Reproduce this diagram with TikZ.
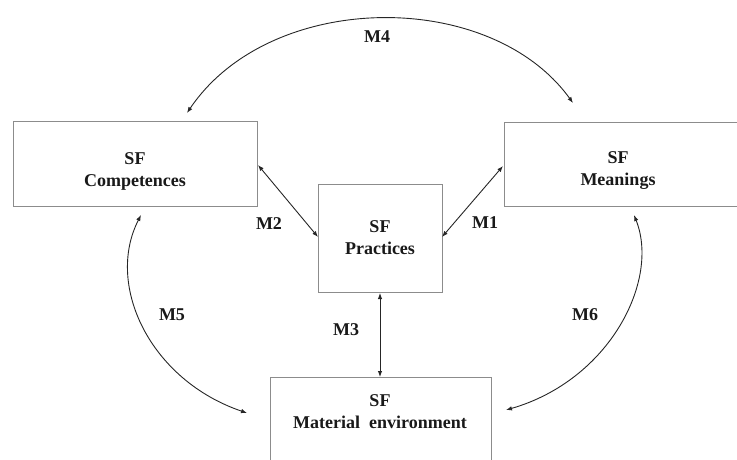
\documentclass[tikz,border=0pt]{standalone}
\usepackage{fontspec}
\setmainfont{Liberation Serif}
\usetikzlibrary{arrows.meta}
\begin{document}
\begin{tikzpicture}[x=1pt,y=-1pt,
  box/.style={draw=black!45,line width=0.9pt,fill=white},
  lbl/.style={font=\fontsize{18}{22}\selectfont\bfseries,align=center,text=black!90},
  link/.style={draw=black!85,line width=0.9pt,{Latex[length=6pt,width=4.5pt]}-{Latex[length=6pt,width=4.5pt]}}]
\useasboundingbox (0,0) rectangle (737,459);
\begin{scope}
\clip (0,0) rectangle (737,459);
\draw[box] (13,121) rectangle (257,206);
\draw[box] (504,122) rectangle (745,206);
\draw[box] (318,184) rectangle (442,292);
\draw[box] (270,377) rectangle (491,470);
\end{scope}
\node[lbl] (comp) at (135,171) {SF\\Competences};
\node[lbl] (mean) at (618,171) {SF\\Meanings};
\node[lbl] (prac) at (380,238) {SF\\Practices};
\node[lbl] (mat) at (380,412) {SF\\Material\ \ environment};
\coordinate (compR) at (258,165);
\coordinate (compT) at (187,113);
\coordinate (compB) at (141,215);
\coordinate (meanL) at (503,166);
\coordinate (meanT) at (573,103);
\coordinate (meanB) at (634,215);
\coordinate (pracL) at (318,237);
\coordinate (pracR) at (442,237);
\coordinate (pracB) at (380,293);
\coordinate (matT) at (380,377);
\coordinate (matL) at (247,413);
\coordinate (matR) at (506,410);
\draw[link] (compR) -- (pracL);
\draw[link] (pracR) -- (meanL);
\draw[link] (pracB) -- (matT);
\draw[link] (compT) .. controls (270,-10) and (490,-12) .. (meanT);
\draw[link] (compB) .. controls (105,285) and (150,380) .. (matL);
\draw[link] (meanB) .. controls (660,280) and (610,380) .. (matR);
\node[lbl] (m4) at (377,37) {M4};
\node[lbl] (m2) at (269,224) {M2};
\node[lbl] (m1) at (485,223) {M1};
\node[lbl] (m3) at (346,330) {M3};
\node[lbl] (m5) at (172,315) {M5};
\node[lbl] (m6) at (585,315) {M6};
\end{tikzpicture}
\end{document}
